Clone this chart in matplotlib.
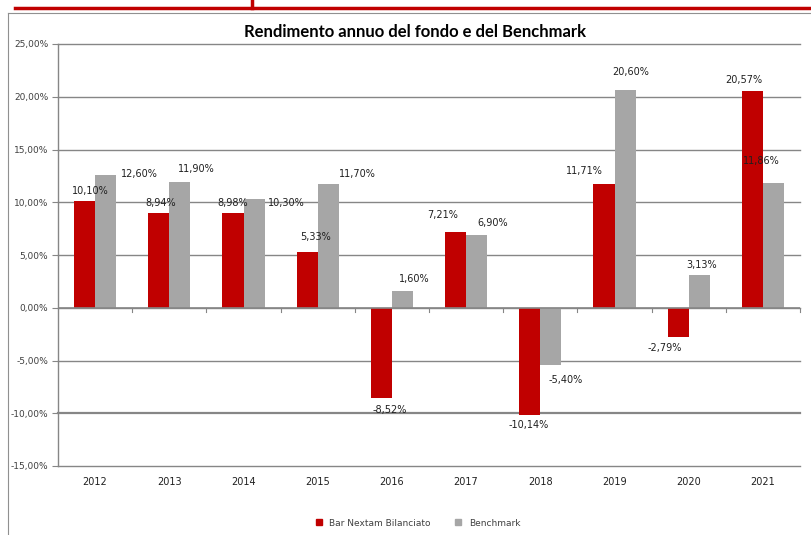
import matplotlib
matplotlib.use("Agg")
import matplotlib.pyplot as plt
from matplotlib.lines import Line2D
import numpy as np

years = ["2012", "2013", "2014", "2015", "2016", "2017", "2018", "2019", "2020", "2021"]
fund = [10.10, 8.94, 8.98, 5.33, -8.52, 7.21, -10.14, 11.71, -2.79, 20.57]
bench = [12.60, 11.90, 10.30, 11.70, 1.60, 6.90, -5.40, 20.60, 3.13, 11.86]
yticks = [-15, -10, -5, 0, 5, 10, 15, 20, 25]
series_names = ["Bar Nextam Bilanciato", "Benchmark"]

# label offsets in pixels (dx, dy), screen coords (dy positive = up)
fund_off = [(6, 10), (2, 10), (0, 10), (8, 15), (8, -12), (-13, 17), (-1, -10), (-20, 13), (-13, -11), (-9, 11)]
bench_off = [(34, 1), (16, 13), (32, -4), (29, 10), (12, 12), (16, 12), (15, -15), (6, 18), (2, 10), (-12, 22)]

RED = "#C00000"
GREY = "#A6A6A6"
GRID = "#868686"

fig = plt.figure(figsize=(8.11, 5.35), dpi=100)
ax = fig.add_axes([58/811, 1-466/535, 742/811, 422/535])

x = np.arange(len(years))
w = 0.285
ax.bar(x - w/2, fund, w, color=RED, zorder=3, label=series_names[0])
ax.bar(x + w/2, bench, w, color=GREY, zorder=3, label=series_names[1])

ax.set_xlim(-0.5, len(years) - 0.5)
ax.set_ylim(-15, 25)
ax.set_yticks(yticks)
ax.set_yticklabels([f"{v:.2f}%".replace(".", ",") for v in yticks], fontsize=6.5, color="#404040")
ax.set_xticks(x)
ax.set_xticklabels(years, fontsize=7, color="#202020")
ax.tick_params(axis="x", length=0, pad=8)
ax.tick_params(axis="y", length=4, width=0.8, color=GRID, pad=3)

for v in yticks:
    lw = 1.6 if v == -10 else 1.0
    ax.axhline(v, color=GRID, lw=lw, zorder=1, clip_on=False)
ax.axhline(0, color=GRID, lw=1.2, zorder=4)
for b in np.arange(0.5, len(years), 1.0):
    ax.plot([b, b], [0, -0.4], color=GRID, lw=0.8, zorder=4, clip_on=False)

for s in ["top", "right", "bottom"]:
    ax.spines[s].set_visible(False)
ax.spines["left"].set_color(GRID)
ax.spines["left"].set_linewidth(1.0)

def fmt(v):
    return f"{v:.2f}%".replace(".", ",")

for i in range(len(years)):
    fv, bv = fund[i], bench[i]
    dx, dy = fund_off[i]
    ax.annotate(fmt(fv), (x[i] - w/2, fv), xytext=(dx*0.72, dy*0.72), textcoords="offset points",
                ha="center", va="center", fontsize=7, color="#202020", zorder=6)
    dx, dy = bench_off[i]
    ax.annotate(fmt(bv), (x[i] + w/2, bv), xytext=(dx*0.72, dy*0.72), textcoords="offset points",
                ha="center", va="center", fontsize=7, color="#202020", zorder=6)

fig.text(415/811, 1-32/535, "Rendimento annuo del fondo e del Benchmark", ha="center", va="center",
         fontsize=12, fontweight="bold", family="Lato", color="#000000")

handles = [Line2D([], [], marker="s", color=RED, ls="", markersize=5),
           Line2D([], [], marker="s", color=GREY, ls="", markersize=5)]
fig.legend(handles, series_names, loc="center", bbox_to_anchor=(415/811, 1-523/535), ncol=2,
           frameon=False, fontsize=6.5, handletextpad=0.2, columnspacing=2.0, labelcolor="#404040")

# page decoration
fig.add_artist(Line2D([15/811, 1], [1-8/535, 1-8/535], color=RED, lw=2.5, transform=fig.transFigure))
fig.add_artist(Line2D([252/811, 252/811], [1, 1-8/535], color=RED, lw=2.5, transform=fig.transFigure))
fig.add_artist(Line2D([8/811, 1], [1-13/535, 1-13/535], color="#909090", lw=0.8, transform=fig.transFigure))
fig.add_artist(Line2D([8/811, 8/811], [1-13/535, 0], color="#909090", lw=0.8, transform=fig.transFigure))

fig.savefig("out.png", dpi=100)
